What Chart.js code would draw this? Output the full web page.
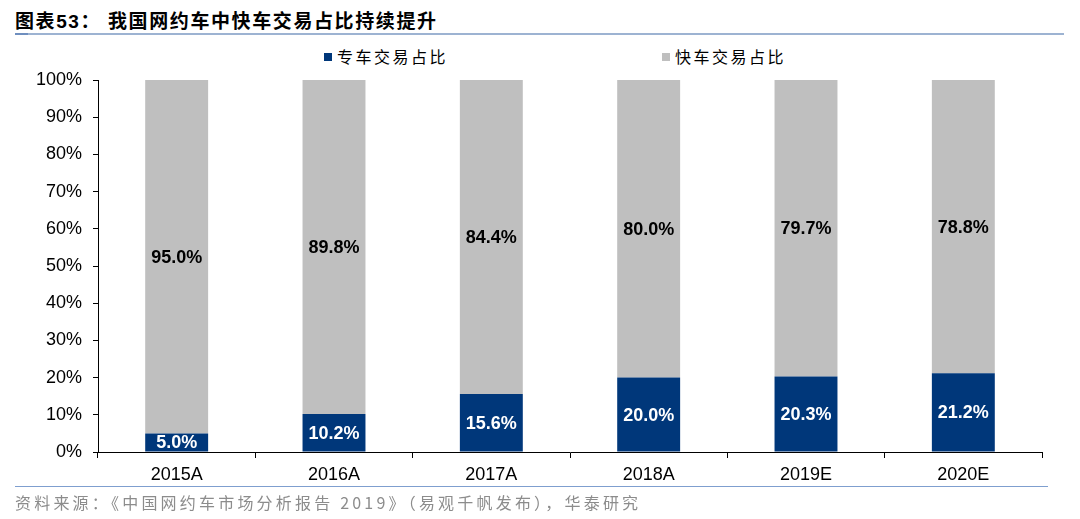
<!DOCTYPE html>
<html>
<head>
<meta charset="utf-8">
<script src="https://cdn.jsdelivr.net/npm/chart.js@4/dist/chart.umd.min.js"></script>
<style>
  html, body { margin: 0; padding: 0; background: #fff; }
  #wrap { position: relative; width: 1080px; height: 519px; overflow: hidden; font-family: "Liberation Sans", "Noto Sans CJK SC", sans-serif; }
  #chart { position: absolute; left: 0; top: 0; }
  .title { position: absolute; left: 15px; top: 6px; font-size: 19px; font-weight: bold; color: #000; letter-spacing: 1.6px; white-space: nowrap; font-family: "Liberation Sans", "Noto Sans CJK SC", sans-serif; }
  .rule { position: absolute; height: 2px; background: #9db3d2; }
  .legend { position: absolute; top: 44px; font-size: 16px; letter-spacing: 2.5px; color: #000; white-space: nowrap; font-family: "Noto Sans CJK SC", sans-serif; }
  .legend i { display: inline-block; width: 8px; height: 8px; margin-right: 5px; vertical-align: 2px; }
  .source { position: absolute; left: 15px; top: 490px; font-size: 16px; letter-spacing: 3.2px; color: #8c8c8c; white-space: nowrap; font-family: "Noto Sans CJK SC", sans-serif; }
</style>
</head>
<body>
<div id="wrap">
  <div class="title">图表53：&nbsp;我国网约车中快车交易占比持续提升</div>
  <div class="rule" style="left:15px; top:33px; width:1049px;"></div>
  <div class="rule" style="left:15px; top:33px; width:13px; background:#6f8fbf;"></div>
  <div class="legend" style="left:324px;"><i style="background:#00377a"></i>专车交易占比</div>
  <div class="legend" style="left:662px;"><i style="background:#bfbfbf"></i>快车交易占比</div>
  <canvas id="chart" width="1080" height="519"></canvas>
  <div class="rule" style="left:15px; top:486px; width:1033px; height:1px; background:#7f9fcf;"></div>
  <div class="source">资料来源：《中国网约车市场分析报告 2019》（易观千帆发布），华泰研究</div>
</div>
<script>
// 데이터
const YEARS = ['2015A', '2016A', '2017A', '2018A', '2019E', '2020E'];
const PREMIUM_SHARE = [5.0, 10.2, 15.6, 20.0, 20.3, 21.2];   // 专车交易占比
const EXPRESS_SHARE = [95.0, 89.8, 84.4, 80.0, 79.7, 78.8];  // 快车交易占比

const NAVY = '#00377a';
const GRAY = '#bfbfbf';

// 막대 안 라벨
const barLabels = {
  id: 'barLabels',
  afterDatasetsDraw(chart) {
    const ctx = chart.ctx;
    ctx.save();
    ctx.font = 'bold 18px "Liberation Sans", Arial, sans-serif';
    ctx.textAlign = 'center';
    ctx.textBaseline = 'middle';
    chart.data.datasets.forEach((ds, i) => {
      const meta = chart.getDatasetMeta(i);
      ctx.fillStyle = i === 0 ? '#ffffff' : '#000000';
      meta.data.forEach((bar, j) => {
        const v = ds.data[j];
        const cy = (bar.y + bar.base) / 2;
        ctx.fillText(v.toFixed(1) + '%', bar.x, cy + 1);
      });
    });
    ctx.restore();
  }
};

new Chart(document.getElementById('chart'), {
  type: 'bar',
  data: {
    labels: YEARS,
    datasets: [
      { label: '专车交易占比', data: PREMIUM_SHARE, backgroundColor: NAVY, borderWidth: 0 },
      { label: '快车交易占比', data: EXPRESS_SHARE, backgroundColor: GRAY, borderWidth: 0 }
    ]
  },
  options: {
    responsive: false,
    animation: false,
    devicePixelRatio: 1,
    layout: { padding: { left: 0, right: 38, top: 80, bottom: 0 } },
    datasets: { bar: { categoryPercentage: 1.0, barPercentage: 0.4 } },
    plugins: {
      legend: { display: false },
      tooltip: { enabled: false }
    },
    scales: {
      x: {
        stacked: true,
        grid: { display: true, drawOnChartArea: false, drawTicks: true, tickLength: 6, color: '#000', offset: true },
        border: { color: '#000', width: 1 },
        ticks: { color: '#000', font: { size: 18, family: '"Liberation Sans", Arial, sans-serif' }, padding: 6 },
        afterFit: s => { s.height = 67; }
      },
      y: {
        stacked: true,
        min: 0,
        max: 100,
        grid: { display: true, drawOnChartArea: false, drawTicks: true, tickLength: 5, color: '#000' },
        border: { color: '#000', width: 1 },
        ticks: {
          stepSize: 10,
          color: '#000',
          padding: 11,
          font: { size: 18, family: '"Liberation Sans", Arial, sans-serif' },
          callback: v => v + '%'
        },
        afterFit: s => { s.width = 98; }
      }
    }
  },
  plugins: [barLabels]
});
</script>
</body>
</html>
